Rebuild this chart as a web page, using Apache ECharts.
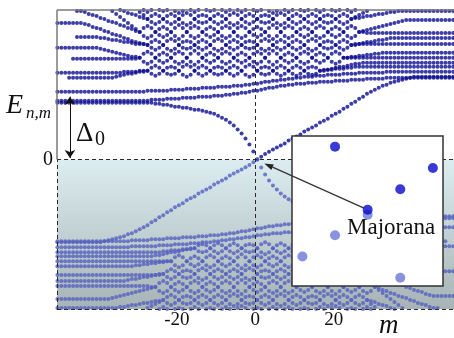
<!DOCTYPE html>
<html>
<head>
<meta charset="utf-8">
<script src="https://cdn.jsdelivr.net/npm/echarts@6/dist/echarts.min.js"></script>
<style>
  html, body { margin: 0; padding: 0; background: #fff; }
  #c { width: 454px; height: 338px; }
</style>
</head>
<body>
<div id="c"></div>
<script>
// Spectrum E(n,m) of the vortex states, upper (E > 0) branch.
// Column i holds angular momentum m = M_FIRST + i (half-integer m, up to 103 columns).
// Empty slots are columns where the level lies above the plotted window.
const M_FIRST = -50.5;
const COLS = 103;

// Majorana branch: flat on the left, drops steeply into E = 0, then rises linearly
const majorana = [
  57,57,57,57,57,57,57,57,57,57,57,57,57,57,57,57,57,57,57,57,57,57,57,57,57,
  56,56,55,55,54,53,53,52,52,51,50,50,49,48,47,46,44,42,40,37,34,30,26,21,15,8,
  0.3,2.8,5.4,7.8,10,12,14,16,19,21,23,25,28,30,32,34,37,39,41,44,46,48,51,53,56,58,61,63,66,68,70,72,74,75,77,78,79,80,81,82,83,
  83,83,83,83,83,83,83,83,83,83,83
];
// lower edge of the continuum
const band1 = [
  59,59,59,59,59,59,59,59,59,59,59,59,59,59,59,59,59,59,59,59,59,59,
  59,59,60,60,60,60,61,61,61,61,62,62,62,62,63,63,63,63,64,64,64,65,65,66,66,67,67,68,69,69,70,71,72,72,73,74,74,75,75,76,76,76,77,77,77,78,78,78,78,79,79,79,79,80,80,80,80,81,81,81,81,81,82,82,
  82,82,82,82,82,82,82,82,82,82,82,82,82,82,82,82,82
];
const band2 = [
  68,68,68,68,68,68,68,68,68,68,68,68,68,68,68,68,68,68,68,68,68,
  68,68,69,69,69,69,69,69,70,70,70,70,71,71,71,71,72,72,72,72,73,73,73,73,74,74,74,75,75,76,76,77,78,78,79,79,80,80,81,81,82,82,83,83,83,84,84,84,85,85,85,85,86,86,86,86,87,87,87,87,87,87,87,
  88,88,88,88,88,88,88,88,88,88,88,88,88,88,88,88,88,88,88
];
// continuum levels: pairs that cross repeatedly in the middle of the m range
const band3 = [,,,
  82,82,82,82,82,82,82,82,82,82,82,82,
  83,84,85,86,86,87,88,88,
  89,92,94,92,89,86,85,86,89,93,95,93,89,86,84,86,89,92,93,92,89,86,84,86,89,93,95,93,89,86,85,86,89,92,94,92,89,86,84,86,89,92,93,92,
  89,
  89,90,90,91,91,91,92,92,93,
  93,93,93,93,93,93,93,93,93,93,93,93,93,93,93,93,93,93,93,93,93,93,93,93,93,93
];
const band4 = [
  87,87,87,87,87,87,87,87,87,87,87,87,87,87,87,
  87,87,88,88,88,88,89,89,
  89,86,84,86,89,92,93,92,89,85,83,85,89,92,94,92,89,86,85,86,89,92,94,92,89,85,83,85,89,92,93,92,89,86,84,86,89,92,94,92,89,86,85,86,
  89,
  90,90,91,92,93,93,94,95,96,96,97,
  97,97,97,97,97,97,97,97,97,97,97,97,97,97,97,97,97,97,97,97,97,97,97,97
];
const band5 = [,,,,
  101,101,101,101,101,101,101,101,101,101,101,101,101,101,101,101,101,
  102,106,108,106,102,99,97,99,102,106,108,106,102,98,95,98,102,105,107,105,102,98,96,98,102,105,107,105,102,98,96,98,102,106,109,106,102,99,97,99,102,106,108,106,102,99,97,99,102,106,108,106,
  102,102,102,102,102,102,102,102,102,102,102,102,102,102,102,102,102,102,102,102,102,102,102,102,102,102,102,102,102,102
];
const band6 = [
  112,112,112,112,112,112,112,112,112,112,112,
  111,110,109,108,107,106,105,104,103,103,
  102,98,96,98,102,105,107,105,102,98,96,98,102,106,109,106,102,99,97,99,102,106,108,106,102,99,97,99,102,106,108,106,102,98,95,98,102,105,107,105,102,98,96,98,102,105,107,105,102,98,96,98,
  102,
  102,103,103,104,104,105,105,106,106,107,
  107,107,107,107,107,107,107,107,107,107,107,107,107,107,107,107,107,107,107
];
const band7 = [,,,,,
  123,123,123,123,123,123,
  122,122,121,120,120,119,118,118,117,116,116,116,
  115,118,120,118,115,111,109,111,115,118,119,118,115,112,110,112,115,119,121,119,115,112,110,112,115,118,119,118,115,111,109,111,115,118,120,118,115,112,110,112,115,119,121,119,115,112,111,112,115,118,120,118,
  115,115,
  116,116,116,116,116,116,116,116,116,116,116,116,116,116,116,116,116,116,116,116,116,116,116,116,116,116
];
const band8 = [
  137,137,137,137,137,137,137,
  136,135,133,132,131,129,128,126,125,124,122,121,119,118,117,116,
  115,112,110,112,115,119,121,119,115,112,111,112,115,118,120,118,115,111,109,111,115,118,120,118,115,112,111,112,115,119,121,119,115,112,110,112,115,118,120,118,115,111,109,111,115,118,119,118,115,112,110,112,
  115,
  116,116,117,118,118,119,120,120,121,122,
  122,122,122,122,122,122,122,122,122,122,122,122,122,122,122,122,122
];
const band9 = [,,,,,
  149,149,148,146,145,144,142,141,139,138,137,135,134,132,131,129,
  128,124,122,124,128,131,133,131,128,124,121,124,128,132,134,132,128,125,123,125,128,132,134,132,128,124,122,124,128,131,133,131,128,124,121,124,128,132,134,132,128,125,123,125,128,132,134,132,128,125,123,125,128,132,134,132,
  128,128,
  127,127,127,127,127,127,127,127,127,127,127,127,127,127,127,127,127,127,127,127,127,127,127,127
];
const band10 = [,,,,,,,,,,,,,
  151,149,146,143,140,137,134,131,
  128,132,134,132,128,125,123,125,128,132,135,132,128,124,122,124,128,131,133,131,128,124,122,124,128,132,134,132,128,125,123,125,128,132,135,132,128,124,122,124,128,131,133,131,128,124,122,124,128,131,133,131,128,124,122,124,
  128,
  129,130,131,132,133,134,135,136,137,138,139,
  140,140,140,140,140,140,140,140,140,140,140,140,140,140
];
const band11 = [,,,,,,,,,,,,,,,
  151,150,149,147,146,145,143,142,
  141,138,136,138,141,144,146,144,141,137,135,137,141,144,145,144,141,138,136,138,141,145,147,145,141,138,136,138,141,144,145,144,141,137,135,137,141,144,146,144,141,138,136,138,141,144,145,144,141,138,136,138,
  141,
  142,142,143,144,144,145,146,146,147,148,148,
  149,149,149,149,149,149,149,149,149,149,149,149,149,149,149,149
];
const band12 = [,,,,,,,,,,,,,,,,,,,,
  151,148,145,
  141,144,146,144,141,138,136,138,141,145,147,145,141,138,137,138,141,144,146,144,141,137,135,137,141,144,146,144,141,138,137,138,141,145,147,145,141,138,136,138,141,144,146,144,141,138,137,138,141,144,146,144,
  141,
  143,145,147,149
];
// lowest parts of the next pair, dipping into the window from above
const band13 = [,,,,,,,,,,,,,,,,,,,,,,
  150,148,150,,150,149,150,,149,147,149,,150,148,150,,150,149,150,,150,148,150,,150,148,150,,150,149,150,,149,147,149,,150,148,150,,150,149,150,,150,148,150,,150,149,150,,150,148,150
];

const upperBands = [majorana, band1, band2, band3, band4, band5, band6, band7,
  band8, band9, band10, band11, band12, band13];

// axis ticks and annotation values
const xTicks = [-20, 0, 20];
const yTicks = [0];
const DELTA0 = 63;            // gap to the bottom of the continuum on the left
const DELTA_M = -47.3;        // where the gap arrow is drawn
const ARROW_TIP = [2.3, -4];  // zero-energy crossing pointed at from the inset

// plotted windows
const X_MIN = -50.6, X_MAX = 50.7, Y_MIN = -150, Y_MAX = 150;
const IX_MIN = -1.82, IX_MAX = 2.81, IY_MIN = -9.0, IY_MAX = 9.3;

const SERIF = '"Liberation Serif", "Times New Roman", serif';

// E > 0 levels and their particle-hole partners (m, E) -> (1 - m, -E)
const upperPts = [], lowerPts = [];
upperBands.forEach((b, k) => {
  if (b.length > COLS) console.error('band ' + k + ' has ' + b.length + ' columns');
  for (let i = 0; i < b.length; i++) {
    const e = b[i];
    if (e === undefined || e === null) continue;
    const m = M_FIRST + i;
    upperPts.push([m, e]);
    lowerPts.push([1 - m, -e]);
  }
});

const shade = (c0, c1) => ({
  type: 'linear', x: 0, y: 0, x2: 0, y2: 1,
  colorStops: [{ offset: 0, color: c0 }, { offset: 1, color: c1 }]
});
const dash = { type: [4, 3], color: '#2a2a2a', width: 1 };
const frame = { type: 'solid', color: '#7a7a7a', width: 1.5 };
const gapArrow = { type: 'solid', color: '#111', width: 1 };

const chart = echarts.init(document.getElementById('c'), null, { renderer: 'canvas' });

chart.setOption({
  animation: false,
  backgroundColor: '#fff',
  grid: [
    { left: 57, top: 10, width: 400, height: 299 },
    { left: 292, top: 136, width: 151, height: 150, show: true,
      backgroundColor: '#fff', borderColor: '#333', borderWidth: 1.5, z: 10 }
  ],
  xAxis: [
    { gridIndex: 0, type: 'value', min: X_MIN, max: X_MAX,
      axisLine: { show: false }, axisTick: { show: false }, splitLine: { show: false },
      axisLabel: { customValues: xTicks, formatter: v => (xTicks.includes(v) ? String(v) : ''),
        color: '#111', fontFamily: SERIF, fontSize: 19, margin: 2 } },
    { gridIndex: 1, type: 'value', min: IX_MIN, max: IX_MAX, show: false }
  ],
  yAxis: [
    { gridIndex: 0, type: 'value', min: Y_MIN, max: Y_MAX,
      axisLine: { show: false }, axisTick: { show: false }, splitLine: { show: false },
      axisLabel: { customValues: yTicks, formatter: v => (yTicks.includes(v) ? String(v) : ''),
        color: '#111', fontFamily: SERIF, fontSize: 20, margin: 4 } },
    { gridIndex: 1, type: 'value', min: IY_MIN, max: IY_MAX, show: false }
  ],
  series: [
    { type: 'line', xAxisIndex: 0, yAxisIndex: 0, data: [], z: 1, silent: true,
      markArea: { silent: true, itemStyle: { color: shade('#dcedf1', '#a7b3b4') },
        data: [[{ coord: [X_MIN, Y_MIN] }, { coord: [X_MAX, 0] }]] },
      markLine: { silent: true, symbol: 'none', label: { show: false },
        data: [
          { yAxis: 0, lineStyle: dash },
          { xAxis: 0, lineStyle: dash },
          { yAxis: Y_MIN, lineStyle: dash },
          [{ coord: [X_MIN, Y_MIN], lineStyle: dash }, { coord: [X_MIN, 0], lineStyle: dash }],
          [{ coord: [X_MIN, 0], lineStyle: frame }, { coord: [X_MIN, Y_MAX], lineStyle: frame }],
          { yAxis: Y_MAX, lineStyle: frame },
          [{ coord: [DELTA_M, 1.5], symbol: 'arrow', symbolSize: 8, lineStyle: gapArrow },
           { coord: [DELTA_M, DELTA0], symbol: 'arrow', symbolSize: 8, lineStyle: gapArrow }]
        ] } },
    { name: 'E>0', type: 'scatter', xAxisIndex: 0, yAxisIndex: 0, z: 3, clip: true,
      symbolSize: 4, itemStyle: { color: '#0c0c92' }, data: upperPts },
    { name: 'E<0', type: 'scatter', xAxisIndex: 0, yAxisIndex: 0, z: 3, clip: true,
      symbolSize: 4, itemStyle: { color: '#5560c0' }, data: lowerPts },
    { type: 'line', xAxisIndex: 1, yAxisIndex: 1, data: [], z: 11, silent: true,
      markArea: { silent: true, itemStyle: { color: shade('#e2f1f4', '#a9b5b7') },
        data: [[{ coord: [IX_MIN, IY_MIN] }, { coord: [IX_MAX, 0] }]] },
      markLine: { silent: true, symbol: 'none', label: { show: false },
        data: [{ yAxis: 0, lineStyle: dash }, { xAxis: 0, lineStyle: dash }] } },
    { type: 'scatter', xAxisIndex: 1, yAxisIndex: 1, z: 12, clip: true,
      symbolSize: 10, itemStyle: { color: '#6a77d6' }, data: lowerPts },
    { type: 'scatter', xAxisIndex: 1, yAxisIndex: 1, z: 12, clip: true,
      symbolSize: 10, itemStyle: { color: '#0808cc' }, data: upperPts }
  ]
});

// text labels and the pointer from the inset to the zero-energy crossing
function txt(x, y, text, size, italic) {
  return { type: 'text', x, y, z: 30, silent: true,
    style: { text, fill: '#111', fontFamily: SERIF, fontSize: size,
      fontStyle: italic ? 'italic' : 'normal',
      align: 'left', verticalAlign: 'middle', textAlign: 'left', textVerticalAlign: 'middle' } };
}
const start = chart.convertToPixel({ gridIndex: 1 }, [M_FIRST + 51, majorana[51]]);
const tip = chart.convertToPixel({ gridIndex: 0 }, ARROW_TIP);
const dx = tip[0] - start[0], dy = tip[1] - start[1];
const len = Math.hypot(dx, dy), ux = dx / len, uy = dy / len;
const s0 = [start[0] + ux * 4, start[1] + uy * 4];
const base = [tip[0] - ux * 9, tip[1] - uy * 9];
const px = -uy * 3, py = ux * 3;

chart.setOption({
  graphic: [
    { type: 'line', z: 25, silent: true,
      shape: { x1: s0[0], y1: s0[1], x2: base[0], y2: base[1] },
      style: { stroke: '#333', lineWidth: 1.2 } },
    { type: 'polygon', z: 25, silent: true,
      shape: { points: [tip, [base[0] + px, base[1] + py], [base[0] - px, base[1] - py]] },
      style: { fill: '#222' } },
    txt(6, 106, 'E', 28, true),
    txt(26, 114, 'n,m', 17, true),
    txt(76, 134, 'Δ', 27, false),
    txt(95, 140, '0', 20, false),
    txt(347, 228, 'Majorana', 23, false),
    txt(379, 326, 'm', 27, true)
  ]
});
</script>
</body>
</html>
